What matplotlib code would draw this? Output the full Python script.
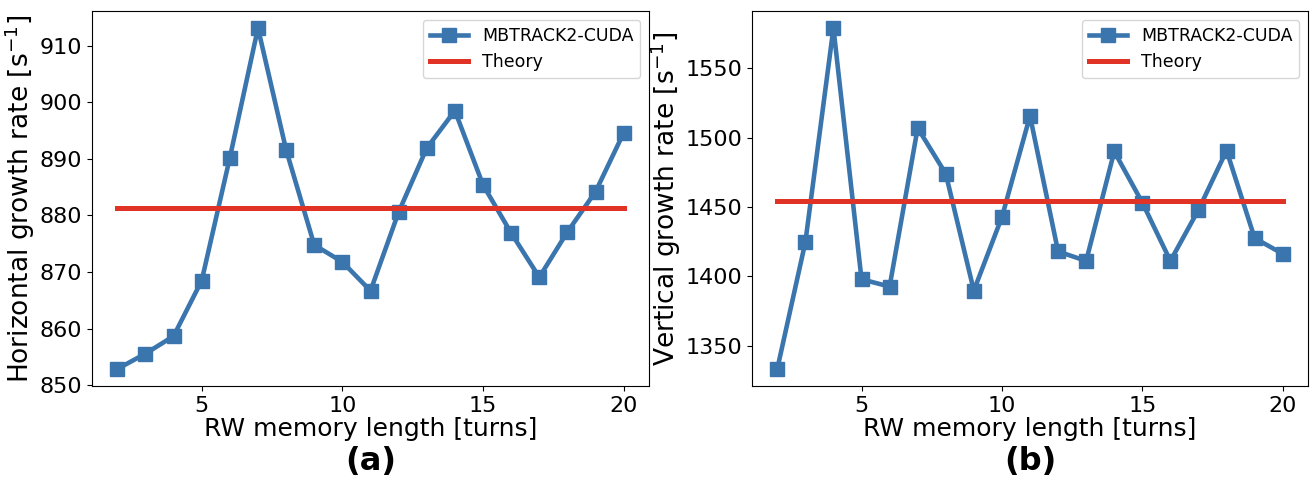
import numpy as np
import matplotlib
matplotlib.use("Agg")
import matplotlib.pyplot as plt

# memory length in turns
turns = list(range(2, 21))

# horizontal growth rate, panel (a)
horiz_rate = [852.9, 855.6, 858.7, 868.5, 890.2, 913.1, 891.6, 874.8, 871.8, 866.7,
              880.6, 891.9, 898.5, 885.4, 876.9, 869.1, 877.1, 884.2, 894.6]
horiz_theory = 881.3

# vertical growth rate, panel (b)
vert_rate = [1333.4, 1424.7, 1578.9, 1398.0, 1392.7, 1506.9, 1474.0, 1389.8, 1442.8, 1515.6,
             1418.0, 1411.2, 1490.0, 1453.2, 1411.2, 1448.0, 1490.7, 1427.6, 1416.3]
vert_theory = 1454.2

BLUE = "#3a75ae"
RED = "#e03325"

fig = plt.figure(figsize=(13.11, 4.82), dpi=100)
ax_a = fig.add_axes([92 / 1311, 1 - 386 / 482, (649 - 92) / 1311, (386 - 11) / 482])
ax_b = fig.add_axes([752 / 1311, 1 - 386 / 482, (1308 - 752) / 1311, (386 - 11) / 482])

panels = [
    (ax_a, horiz_rate, horiz_theory, "Horizontal growth rate [s$^{-1}$]", "(a)"),
    (ax_b, vert_rate, vert_theory, "Vertical growth rate [s$^{-1}$]", "(b)"),
]

for ax, rate, theory, ylab, tag in panels:
    ax.plot(turns, rate, color=BLUE, lw=3.3, marker="s", ms=10, label="MBTRACK2-CUDA")
    ax.plot([turns[0], turns[-1]], [theory, theory], color=RED, lw=3.6, label="Theory")
    ax.set_xlabel("RW memory length [turns]", fontsize=18, labelpad=1)
    ax.set_ylabel(ylab, fontsize=19, labelpad=2)
    ax.tick_params(labelsize=16)
    ax.set_xticks([5, 10, 15, 20])
    ax.legend(loc="upper right", fontsize=12.5, handlelength=2.2)
    ax.text(0.5, -0.16, tag, transform=ax.transAxes, ha="center", va="top",
            fontsize=23, fontweight="bold")

ax_b.set_yticks([1350, 1400, 1450, 1500, 1550])

fig.savefig("out.png", dpi=100)
